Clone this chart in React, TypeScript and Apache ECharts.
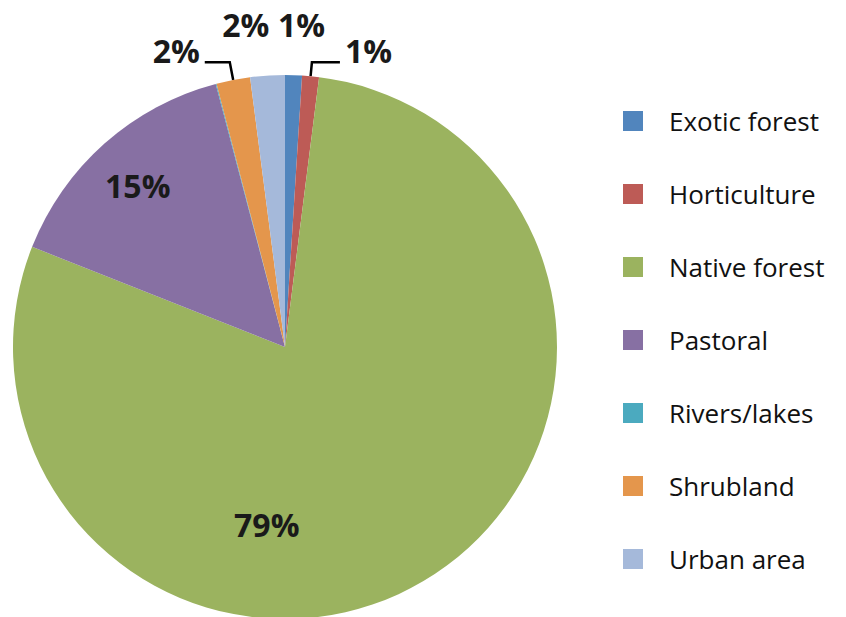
import React, { useEffect, useRef } from "react";
import * as echarts from "echarts";

const categories = [
  "Exotic forest",
  "Horticulture",
  "Native forest",
  "Pastoral",
  "Rivers/lakes",
  "Shrubland",
  "Urban area",
];
const values = [1.0, 1.0, 79.0, 14.9, 0.05, 2.0, 2.05];
const colors = ["#5185BD", "#BD5B56", "#9BB35F", "#8770A3", "#4BAABF", "#E4964C", "#A5B9DA"];

export default function App() {
  const ref = useRef<HTMLDivElement>(null);
  useEffect(() => {
    if (!ref.current) return;
    const chart = echarts.init(ref.current, undefined, { renderer: "svg" });
    const labelBase = {
      fontFamily: "Open Sans",
      fontWeight: "bold" as const,
      fontSize: 32,
      color: "#1a1a1a",
    };
    // per-slice label settings (positioning only)
    const labelOpts: any[] = [
      { position: "outside", lineShow: false, length: 48, length2: 0 },
      { position: "outside", lineShow: true, length: 14, length2: 28 },
      { position: "inside" },
      { position: "inside" },
      { position: "outside", lineShow: false, length: 10, length2: 0 },
      { position: "outside", lineShow: true, length: 18, length2: 25 },
      { position: "outside", lineShow: false, length: 48, length2: 0 },
    ];
    const layoutShift: Record<number, { dx: number; dy: number }> = {
      0: { dx: -22, dy: -3 },
      1: { dx: 0, dy: -12 },
      2: { dx: -89, dy: 58 },
      3: { dx: -55, dy: -58 },
      5: { dx: 0, dy: -12 },
      6: { dx: 10, dy: -3 },
    };
    const data = categories.map((name, i) => {
      const o = labelOpts[i];
      return {
        name,
        value: values[i],
        itemStyle: { color: colors[i] },
        label: {
          ...labelBase,
          position: o.position,
        },
        labelLine:
          o.position === "outside"
            ? {
                show: !!o.lineShow,
                length: o.length,
                length2: o.length2,
                lineStyle: { color: "#000", width: 2.5 },
              }
            : { show: false },
      };
    });
    chart.setOption({
      animation: false,
      legend: {
        orient: "vertical",
        left: 623,
        top: 108,
        padding: 0,
        itemWidth: 20,
        itemHeight: 20,
        itemGap: 47,
        icon: "rect",
        selectedMode: false,
        textStyle: {
          fontFamily: "Open Sans",
          fontSize: 26,
          lineHeight: 26,
          color: "#111",
          padding: [0, 0, 0, 21],
        },
        data: categories,
      },
      series: [
        {
          type: "pie",
          center: [285, 347],
          radius: 272,
          startAngle: 90,
          clockwise: true,
          avoidLabelOverlap: false,
          label: {
            formatter: (p: any) => (p.percent < 0.5 ? "" : Math.round(p.percent) + "%"),
          },
          labelLayout: (params: any) => {
            const s = layoutShift[params.dataIndex];
            return s ? { dx: s.dx, dy: s.dy, hideOverlap: false } : { hideOverlap: false };
          },
          itemStyle: { borderWidth: 0 },
          emphasis: { disabled: true },
          data,
        },
      ],
    });
    return () => chart.dispose();
  }, []);
  return (
    <div
      ref={ref}
      style={{ position: "fixed", left: 0, top: 0, width: 846, height: 617, background: "#fff" }}
    />
  );
}
